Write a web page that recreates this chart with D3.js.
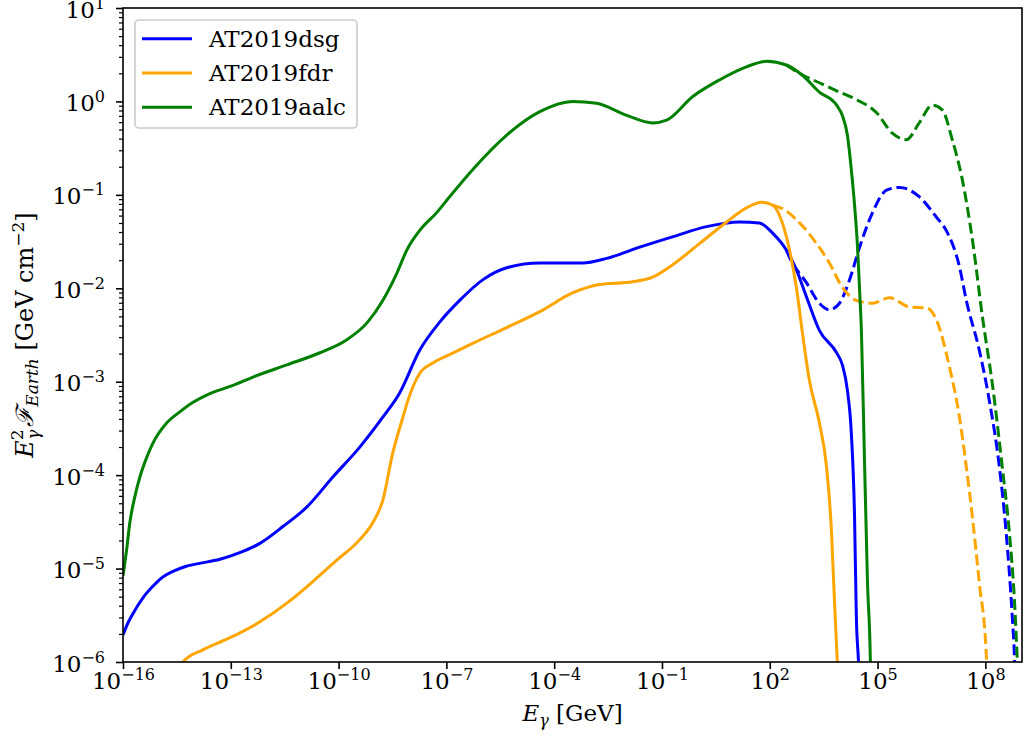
<!doctype html>
<html>
<head>
<meta charset="utf-8">
<title>Gamma-ray flux at Earth</title>
<style>
  body { margin: 0; background: #fff; }
  text { font-family: "DejaVu Serif", serif; }
</style>
</head>
<body>
<svg width="1025" height="742"></svg>
<script src="https://d3js.org/d3.v7.min.js"></script>
<script>
// values are log10(E / GeV) and log10(E^2 F / GeV cm^-2)
var dsgE  = [-16,-15.86,-15.72,-15.44,-15.17,-14.89,-14.61,-14.28,-13.94,-13.30,-12.75,-12.19,-11.55,-10.88,-10.16,-9.41,-8.77,-8.30,-7.74,-7.18,-6.63,-5.99,-5.32,-4.40,-3.21,-2.54,-1.62,-0.71,0.24,1.16,1.71,2.08,2.46,2.74,3.02,3.38,3.86,4.02,4.16,4.27,4.36,4.41,4.47,4.50];
var dsgF  = [-5.71,-5.58,-5.48,-5.31,-5.19,-5.09,-5.03,-4.98,-4.95,-4.90,-4.83,-4.73,-4.55,-4.34,-4.02,-3.70,-3.38,-3.12,-2.66,-2.36,-2.13,-1.91,-1.78,-1.73,-1.73,-1.68,-1.56,-1.45,-1.34,-1.29,-1.30,-1.41,-1.59,-1.80,-2.09,-2.45,-2.69,-2.82,-3.09,-3.55,-4.45,-5.52,-6.0,-6.3];
var dsgDashE = [2.46,2.55,3.02,3.38,3.66,3.94,4.22,4.50,4.86,5.25,5.61,6.16,6.64,6.91,7.28,7.47,7.83,8.11,8.39,8.58,8.75,8.81,8.83];
var dsgDashF = [-1.59,-1.67,-1.94,-2.16,-2.23,-2.16,-1.91,-1.56,-1.19,-0.95,-0.92,-1.02,-1.24,-1.38,-1.77,-2.13,-2.66,-3.20,-3.91,-4.62,-5.52,-5.95,-6.2];

var fdrE  = [-14.47,-14.33,-13.78,-13.02,-12.19,-11.44,-10.72,-10.05,-9.41,-9.05,-8.77,-8.49,-8.21,-8.07,-7.74,-7.38,-6.91,-6.27,-5.32,-4.40,-3.49,-2.74,-1.82,-1.26,-0.71,0.05,0.80,1.35,1.77,2.08,2.35,2.55,2.74,2.91,3.10,3.38,3.58,3.72,3.80,3.88,3.91];
var fdrF  = [-6.09,-6.0,-5.87,-5.74,-5.57,-5.37,-5.14,-4.91,-4.69,-4.51,-4.27,-3.76,-3.38,-3.20,-2.91,-2.80,-2.71,-2.59,-2.42,-2.25,-2.05,-1.96,-1.93,-1.88,-1.75,-1.52,-1.29,-1.14,-1.08,-1.11,-1.30,-1.59,-1.99,-2.48,-2.98,-3.44,-3.91,-4.62,-5.34,-6.0,-6.3];
var fdrDashE = [2.08,2.41,2.83,3.30,3.66,4.02,4.41,4.86,5.33,5.89,6.36,6.64,7.00,7.28,7.47,7.64,7.83,8.03,8.05];
var fdrDashF = [-1.11,-1.16,-1.30,-1.52,-1.73,-1.99,-2.13,-2.16,-2.10,-2.20,-2.21,-2.34,-2.84,-3.38,-3.91,-4.45,-5.15,-5.95,-6.2];

var aalcE = [-16,-15.90,-15.81,-15.67,-15.53,-15.34,-15.17,-14.78,-14.41,-14.05,-13.66,-12.94,-12.38,-11.44,-10.52,-9.77,-9.21,-8.77,-8.38,-8.10,-7.74,-7.27,-6.91,-6.27,-5.32,-4.40,-3.49,-2.82,-1.98,-1.26,-0.87,-0.15,0.60,1.35,1.91,2.46,2.91,3.38,3.86,4.02,4.16,4.27,4.36,4.44,4.50,4.55,4.63,4.72,4.80,4.81];
var aalcF = [-5.08,-4.80,-4.51,-4.23,-4.02,-3.81,-3.66,-3.44,-3.32,-3.22,-3.14,-3.04,-2.95,-2.82,-2.69,-2.55,-2.37,-2.13,-1.84,-1.59,-1.38,-1.19,-1.02,-0.73,-0.36,-0.11,0.00,-0.02,-0.15,-0.23,-0.20,0.05,0.23,0.37,0.43,0.39,0.28,0.10,-0.04,-0.15,-0.36,-0.73,-1.11,-1.54,-2.02,-2.45,-3.73,-5.15,-6.0,-6.3];
var aalcDashE = [2.46,2.83,3.38,3.94,4.41,4.97,5.41,5.80,6.16,6.52,6.80,7.08,7.36,7.64,7.92,8.19,8.47,8.67,8.81,8.89,8.92];
var aalcDashF = [0.39,0.30,0.20,0.10,0.02,-0.12,-0.34,-0.41,-0.23,-0.04,-0.09,-0.41,-0.84,-1.48,-2.31,-3.01,-3.91,-4.62,-5.34,-5.98,-6.2];

var names  = ["AT2019dsg", "AT2019fdr", "AT2019aalc"];
var colors = ["#0000ff", "#ffa500", "#008000"];
var xTickExp = [-16, -13, -10, -7, -4, -1, 2, 5, 8];
var yTickExp = [-6, -5, -4, -3, -2, -1, 0, 1];

var svg = d3.select("svg");
var mLeft = 123, mRight = 1022, mTop = 8, mBottom = 662;
var fs = 23, fsSmall = 16;

var x = d3.scaleLog().domain([1e-16, Math.pow(10, 9.02)]).range([mLeft, mRight]);
var y = d3.scaleLog().domain([1e-6, 10]).range([mBottom, mTop]);

function pts(es, fl) {
  return es.map(function(e, i) { return [Math.pow(10, e), Math.pow(10, fl[i])]; });
}

var series = [
  { c: 0, solid: pts(dsgE, dsgF),   dash: pts(dsgDashE, dsgDashF) },
  { c: 1, solid: pts(fdrE, fdrF),   dash: pts(fdrDashE, fdrDashF) },
  { c: 2, solid: pts(aalcE, aalcF), dash: pts(aalcDashE, aalcDashF) }
];

svg.append("clipPath").attr("id", "clip")
  .append("rect").attr("x", mLeft).attr("y", mTop)
  .attr("width", mRight - mLeft).attr("height", mBottom - mTop);

var line = d3.line()
  .x(function(d) { return x(d[0]); })
  .y(function(d) { return y(d[1]); })
  .curve(d3.curveMonotoneX);

var plot = svg.append("g").attr("clip-path", "url(#clip)");

series.forEach(function(s) {
  plot.append("path").datum(s.solid)
    .attr("d", line).attr("fill", "none")
    .attr("stroke", colors[s.c]).attr("stroke-width", 3);
  plot.append("path").datum(s.dash)
    .attr("d", line).attr("fill", "none")
    .attr("stroke", colors[s.c]).attr("stroke-width", 3)
    .attr("stroke-dasharray", "11,4.8");
});

// axes
function powLabel(sel, exp) {
  sel.text("10");
  sel.append("tspan").attr("font-size", fsSmall).attr("dy", -9)
    .text(exp < 0 ? "\u2212" + (-exp) : exp);
}

var xAxis = svg.append("g").attr("transform", "translate(0," + mBottom + ")")
  .call(d3.axisBottom(x)
    .tickValues(xTickExp.map(function(e) { return Math.pow(10, e); }))
    .tickSize(7).tickPadding(7).tickFormat(""));
xAxis.selectAll(".tick text").each(function(d, i) {
  d3.select(this).attr("dy", 0).attr("y", 27).attr("font-size", fs);
  powLabel(d3.select(this), xTickExp[i]);
});

var minor = [];
yTickExp.slice(0, -1).forEach(function(e) {
  for (var k = 2; k < 10; k++) minor.push(k * Math.pow(10, e));
});
svg.append("g").attr("transform", "translate(" + mLeft + ",0)")
  .call(d3.axisLeft(y).tickValues(minor).tickSize(4).tickFormat(""))
  .call(function(g) { g.select(".domain").remove(); })
  .selectAll(".tick line").attr("stroke-width", 1.2);

var yAxis = svg.append("g").attr("transform", "translate(" + mLeft + ",0)")
  .call(d3.axisLeft(y)
    .tickValues(yTickExp.map(function(e) { return Math.pow(10, e); }))
    .tickSize(7).tickPadding(7).tickFormat(""));
yAxis.selectAll(".tick text").each(function(d, i) {
  d3.select(this).attr("dy", 0).attr("y", 9).attr("x", -18).attr("font-size", fs);
  powLabel(d3.select(this), yTickExp[i]);
});

svg.selectAll(".tick line").attr("stroke", "#000");
xAxis.selectAll(".tick line").attr("stroke-width", 1.6);
yAxis.selectAll(".tick line").attr("stroke-width", 1.6);
svg.selectAll(".domain").remove();

svg.append("rect")
  .attr("x", mLeft).attr("y", mTop)
  .attr("width", mRight - mLeft).attr("height", mBottom - mTop)
  .attr("fill", "none").attr("stroke", "#000").attr("stroke-width", 1.6);

// axis labels
var xl = svg.append("text").attr("x", (mLeft + mRight) / 2).attr("y", 721)
  .attr("text-anchor", "middle").attr("font-size", fs);
xl.append("tspan").attr("font-style", "italic").text("E");
xl.append("tspan").attr("font-style", "italic").attr("font-size", fsSmall).attr("dy", 5).text("\u03b3");
xl.append("tspan").attr("dy", -5).text(" [GeV]");

var yl = svg.append("text")
  .attr("transform", "translate(33," + (mTop + mBottom) / 2 + ") rotate(-90)")
  .attr("text-anchor", "middle").attr("font-size", 24);
yl.append("tspan").attr("font-style", "italic").text("E");
yl.append("tspan").attr("font-size", 17).attr("dy", -10).text("2");
yl.append("tspan").attr("font-style", "italic").attr("font-size", 17).attr("dx", -10.5).attr("dy", 16).text("\u03b3");
yl.append("tspan").attr("font-style", "italic").attr("dx", 3).attr("dy", -6).text("\u2131");
yl.append("tspan").attr("font-style", "italic").attr("font-size", 17).attr("dy", 5).text("Earth");
yl.append("tspan").attr("dy", -5).text(" [GeV cm");
yl.append("tspan").attr("font-size", 17).attr("dy", -9).text("\u22122");
yl.append("tspan").attr("dy", 9).text("]");

// legend
var lg = svg.append("g");
lg.append("rect").attr("x", 135).attr("y", 20).attr("width", 222).attr("height", 108)
  .attr("rx", 4).attr("fill", "#fff").attr("fill-opacity", 0.8)
  .attr("stroke", "#cccccc").attr("stroke-width", 1.6);
names.forEach(function(n, i) {
  var ly = 38.7 + i * 34.3;
  lg.append("line").attr("x1", 142).attr("x2", 192).attr("y1", ly).attr("y2", ly)
    .attr("stroke", colors[i]).attr("stroke-width", 3);
  lg.append("text").attr("x", 209).attr("y", ly + 8).attr("font-size", fs).text(n);
});
</script>
</body>
</html>
